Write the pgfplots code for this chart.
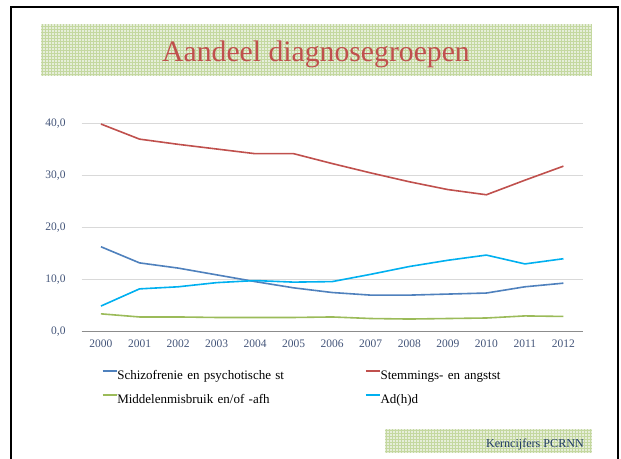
\documentclass[border=0pt]{standalone}
\usepackage{fontspec}
\setmainfont{Liberation Serif}
\usepackage{pgfplots}
\pgfplotsset{compat=1.18}
\definecolor{cBlue}{HTML}{4F81BD}
\definecolor{cRed}{HTML}{C0504D}
\definecolor{cGreen}{HTML}{9BBB59}
\definecolor{cCyan}{HTML}{00B0F0}
\definecolor{cTick}{HTML}{44557A}
\definecolor{cGrid}{HTML}{D9D9D9}
\definecolor{cAxis}{HTML}{8C8C8C}
\definecolor{bandFill}{HTML}{E6EEDA}
\definecolor{bandLine}{HTML}{C4D8A0}
\definecolor{cNavy}{HTML}{1F3A66}
\begin{document}
\begin{tikzpicture}
\useasboundingbox (0bp,0bp) rectangle (621bp,459bp);
\fill[white] (0bp,0bp) rectangle (621bp,459bp);
% frame
\draw[line width=2.2bp, black] (11bp,-5bp) -- (11bp,452bp) -- (618bp,452bp) -- (618bp,-5bp);
% title band
\fill[bandFill] (41bp,383bp) rectangle (592bp,435bp);
\foreach \i in {0,...,183} {\pgfmathsetmacro\xx{41+3*\i+1.5}\draw[bandLine, line width=0.7bp] (\xx bp,383bp) -- (\xx bp,435bp);}
\foreach \j in {0,...,16} {\pgfmathsetmacro\yy{383+3*\j+1.5}\draw[bandLine, line width=0.7bp] (41bp,\yy bp) -- (592bp,\yy bp);}
\node[anchor=base, inner sep=0pt, text=cRed, font=\fontsize{29.7bp}{32bp}\selectfont] at (316bp,397bp) {Aandeel diagnosegroepen};
% footer band
\fill[bandFill] (385bp,6bp) rectangle (592bp,30bp);
\foreach \i in {0,...,68} {\pgfmathsetmacro\xx{385+3*\i+1.5}\draw[bandLine, line width=0.7bp] (\xx bp,6bp) -- (\xx bp,30bp);}
\foreach \j in {0,...,7} {\pgfmathsetmacro\yy{6+3*\j+1.5}\draw[bandLine, line width=0.7bp] (385bp,\yy bp) -- (592bp,\yy bp);}
\node[anchor=base east, inner sep=0pt, text=cNavy, font=\fontsize{12.1bp}{14bp}\selectfont] at (584bp,12bp) {Kerncijfers PCRNN};
\begin{axis}[
  at={(81.7bp,128bp)}, anchor=south west,
  scale only axis, width=501bp, height=208bp,
  xmin=-0.5, xmax=12.5, ymin=0, ymax=40,
  xtick={0,...,12},
  xticklabels={2000,2001,2002,2003,2004,2005,2006,2007,2008,2009,2010,2011,2012},
  ytick={0,10,20,30,40},
  major tick length=0pt,
  axis x line*=bottom, axis y line*=left,
  separate axis lines,
  x axis line style={draw=cAxis, line width=1bp},
  y axis line style={draw=none},
  ymajorgrids, grid style={cGrid, line width=0.9bp},
  /pgf/number format/.cd, fixed, fixed zerofill, precision=1, use comma, assume math mode=true,
  /pgfplots/.cd,
  tick label style={text=cTick, font=\fontsize{11.5bp}{13bp}\selectfont, inner sep=0pt},
  xticklabel style={anchor=north, yshift=-9bp},
  yticklabel style={anchor=east, xshift=-16bp, yshift=-1bp},
  legend columns=2,
  legend cell align=left,
  legend style={draw=none, fill=none, inner sep=0pt, outer sep=0pt,
    at={(axis description cs:0.0405,-0.1875)}, anchor=north west,
    row sep=12bp,
    nodes={inner sep=0pt, font=\fontsize{13bp}{15bp}\selectfont, text height=9bp, text depth=3bp},
    /tikz/every even column/.append style={text width=248bp, align=left, inner xsep=0.5bp}},
  legend image code/.code={\draw[#1, line width=1.3bp] (0bp,5bp) -- (14bp,5bp);},
  every axis plot/.append style={line width=1.6bp, line join=round},
]
\addplot[cBlue] coordinates {(0,16.2) (1,13.1) (2,12.1) (3,10.8) (4,9.5) (5,8.3) (6,7.4) (7,6.9) (8,6.9) (9,7.1) (10,7.3) (11,8.5) (12,9.2)};
\addlegendentry{Schizofrenie en psychotische st}
\addplot[cRed] coordinates {(0,39.8) (1,36.9) (2,35.9) (3,35.0) (4,34.1) (5,34.1) (6,32.2) (7,30.4) (8,28.7) (9,27.2) (10,26.2) (11,29.0) (12,31.7)};
\addlegendentry{Stemmings- en angstst}
\addplot[cGreen] coordinates {(0,3.3) (1,2.7) (2,2.7) (3,2.6) (4,2.6) (5,2.6) (6,2.7) (7,2.4) (8,2.3) (9,2.4) (10,2.5) (11,2.9) (12,2.8)};
\addlegendentry{Middelenmisbruik en/of -afh}
\addplot[cCyan] coordinates {(0,4.8) (1,8.1) (2,8.5) (3,9.3) (4,9.7) (5,9.4) (6,9.5) (7,10.9) (8,12.4) (9,13.6) (10,14.6) (11,12.9) (12,13.9)};
\addlegendentry{Ad(h)d}
\end{axis}
\end{tikzpicture}
\end{document}
